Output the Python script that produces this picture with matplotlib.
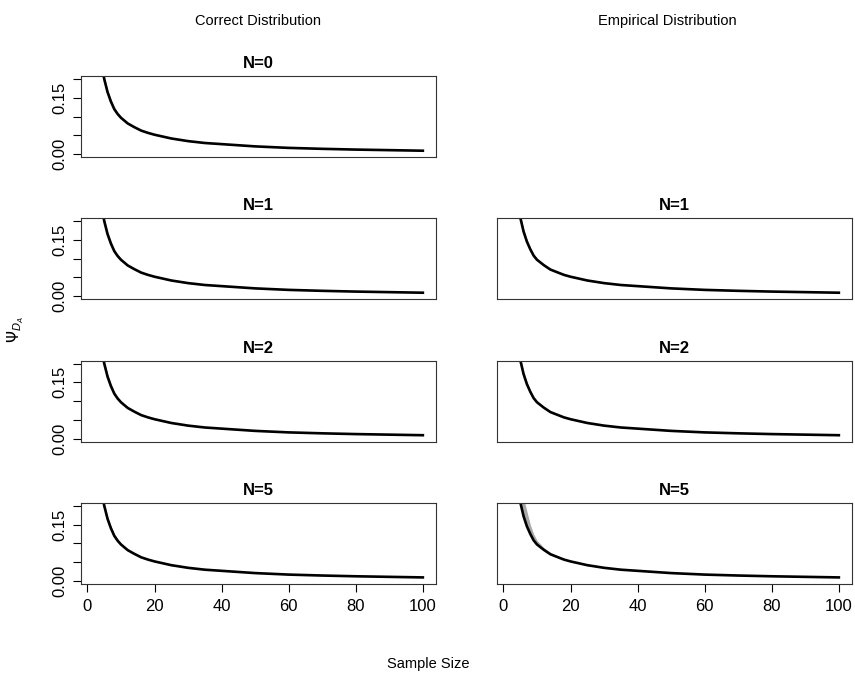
import matplotlib
matplotlib.use("Agg")
import matplotlib.pyplot as plt

plt.rcParams['font.family'] = ['Liberation Sans', 'DejaVu Sans']

# sample sizes and the psi curves
sample_size = [2, 3, 4, 5, 6, 7, 8, 9, 10, 12, 14, 16, 18, 20, 25, 30, 35, 40, 50, 60, 70, 80, 90, 100]

correct_psi = [0.50, 0.33, 0.25, 0.20, 0.165, 0.14, 0.12, 0.107, 0.097, 0.082, 0.072, 0.063,
               0.057, 0.052, 0.042, 0.035, 0.030, 0.027, 0.021, 0.017, 0.0145, 0.0125, 0.011, 0.0095]
correct_lo = [0.49, 0.32, 0.245, 0.196, 0.162, 0.137, 0.118, 0.105, 0.095, 0.081, 0.071, 0.062,
              0.056, 0.051, 0.041, 0.034, 0.0295, 0.0265, 0.0205, 0.0167, 0.0143, 0.0123, 0.0108, 0.0093]
correct_hi = [0.52, 0.35, 0.26, 0.21, 0.172, 0.147, 0.126, 0.112, 0.101, 0.085, 0.074, 0.065,
              0.059, 0.053, 0.043, 0.036, 0.031, 0.0277, 0.0215, 0.0174, 0.0148, 0.0128, 0.0113, 0.0098]

empirical_psi = [0.55, 0.40, 0.28, 0.21, 0.172, 0.145, 0.125, 0.108, 0.097, 0.083, 0.071, 0.064,
                 0.057, 0.052, 0.042, 0.035, 0.030, 0.027, 0.021, 0.017, 0.0145, 0.0125, 0.011, 0.0095]
empirical_lo = [0.53, 0.38, 0.27, 0.205, 0.168, 0.141, 0.122, 0.106, 0.095, 0.081, 0.070, 0.063,
                0.056, 0.051, 0.041, 0.034, 0.0295, 0.0265, 0.0205, 0.0167, 0.0143, 0.0123, 0.0108, 0.0093]
empirical_hi = [0.57, 0.42, 0.30, 0.22, 0.18, 0.152, 0.13, 0.113, 0.101, 0.086, 0.074, 0.066,
                0.059, 0.053, 0.043, 0.036, 0.031, 0.0277, 0.0215, 0.0174, 0.0148, 0.0128, 0.0113, 0.0098]
empirical_hi_n5 = [0.60, 0.45, 0.34, 0.26, 0.22, 0.185, 0.15, 0.125, 0.108, 0.089, 0.076, 0.067,
                   0.060, 0.054, 0.0435, 0.0365, 0.031, 0.028, 0.0217, 0.0175, 0.015, 0.013, 0.0114, 0.0099]

n_values = ["N=0", "N=1", "N=2", "N=5"]
col_titles = ["Correct Distribution", "Empirical Distribution"]

W, H = 855, 675
fig = plt.figure(figsize=(W / 100, H / 100), dpi=100)

col_left = [81, 497]
col_width = 355
row_top = [76, 218, 360.5, 502.7]
row_height = 81.3
FS = 12
OUTER_FS = 10.5


def draw_panel(ax, mean, lo, hi, title, show_y, show_x):
    ax.fill_between(sample_size, lo, hi, color='#a8a8a8', lw=0)
    ax.plot(sample_size, mean, color='black', lw=1.9)
    ax.set_xlim(-1.92, 103.92)
    ax.set_ylim(-0.008, 0.208)
    ax.set_title(title, fontsize=FS, fontweight='bold', pad=5.5)
    for s in ax.spines.values():
        s.set_linewidth(0.8)
        s.set_color('#333333')
    ax.tick_params(direction='out', length=5.5, width=0.8, labelsize=FS)
    if show_y:
        ax.set_yticks([0.0, 0.05, 0.10, 0.15, 0.20])
        ax.set_yticklabels(["0.00", "", "", "0.15", ""], rotation=90, va='center')
        ax.tick_params(axis='y', pad=4)
    else:
        ax.set_yticks([])
    if show_x:
        ax.set_xticks([0, 20, 40, 60, 80, 100])
        ax.tick_params(axis='x', pad=5)
    else:
        ax.set_xticks([])


for r in range(4):
    for c in range(2):
        if r == 0 and c == 1:
            continue
        left = col_left[c] / W
        bottom = 1 - (row_top[r] + row_height) / H
        ax = fig.add_axes([left, bottom, col_width / W, row_height / H])
        if c == 0:
            draw_panel(ax, correct_psi, correct_lo, correct_hi, n_values[r], True, r == 3)
        else:
            hi = empirical_hi_n5 if r == 3 else empirical_hi
            draw_panel(ax, empirical_psi, empirical_lo, hi, n_values[r], False, r == 3)

fig.text(258 / W, 1 - 21 / H, col_titles[0], ha='center', va='center', fontsize=OUTER_FS)
fig.text(667 / W, 1 - 21 / H, col_titles[1], ha='center', va='center', fontsize=OUTER_FS)
fig.text(428 / W, 1 - 664 / H, "Sample Size", ha='center', va='center', fontsize=OUTER_FS)
fig.text(16 / W, 1 - 330 / H, r'$\Psi_{D_A}$', ha='center', va='center', fontsize=11, rotation=90)

fig.savefig("out.png", dpi=100)
